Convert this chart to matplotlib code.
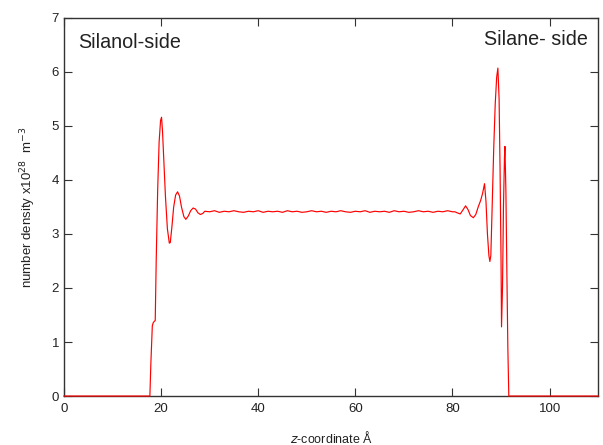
import matplotlib.pyplot as plt

plt.rcParams['font.family'] = ['Liberation Sans', 'DejaVu Sans']

# z-coordinate (Angstrom) and number density (x10^28 m^-3)
z = [0, 17.7, 17.9, 18.2, 18.4, 18.8, 19.0, 19.3, 19.6, 19.9, 20.1, 20.3, 20.6,
     20.9, 21.3, 21.7, 21.9, 22.2, 22.6, 23.0, 23.4, 23.8, 24.2, 24.7, 25.1,
     25.6, 26.1, 26.6, 27.1, 27.6, 28.1, 28.6, 29.0,
     30, 31, 32, 33, 34, 35, 36, 37, 38, 39, 40, 41, 42, 43, 44, 45, 46, 47,
     48, 49, 50, 51, 52, 53, 54, 55, 56, 57, 58, 59, 60, 61, 62, 63, 64, 65,
     66, 67, 68, 69, 70, 71, 72, 73, 74, 75, 76, 77, 78, 79, 80,
     80.5, 81.0, 81.6, 82.2, 82.7, 83.2, 83.7, 84.3, 84.8, 85.3, 85.8, 86.2,
     86.6, 86.9, 87.2, 87.5, 87.7, 87.9, 88.2, 88.5, 88.8, 89.1, 89.35, 89.6,
     89.8, 90.0, 90.1, 90.3, 90.5, 90.7, 90.8, 91.0, 91.2, 91.4, 91.6, 110]
rho = [0, 0, 0.6, 1.3, 1.36, 1.4, 2.5, 3.8, 4.7, 5.1, 5.16, 4.9, 4.3,
       3.7, 3.1, 2.83, 2.84, 3.1, 3.5, 3.72, 3.78, 3.7, 3.5, 3.32, 3.27,
       3.33, 3.43, 3.48, 3.46, 3.39, 3.36, 3.38, 3.42,
       3.41, 3.43, 3.40, 3.42, 3.41, 3.43, 3.41, 3.40, 3.42, 3.41, 3.43, 3.40,
       3.42, 3.41, 3.42, 3.40, 3.43, 3.41, 3.42, 3.40, 3.41, 3.43, 3.41, 3.42,
       3.40, 3.42, 3.41, 3.43, 3.41, 3.40, 3.42, 3.41, 3.43, 3.40, 3.42, 3.41,
       3.42, 3.40, 3.43, 3.41, 3.42, 3.40, 3.41, 3.43, 3.41, 3.42, 3.40, 3.42,
       3.41, 3.43, 3.41,
       3.41, 3.39, 3.37, 3.45, 3.52, 3.45, 3.34, 3.30, 3.36, 3.5, 3.62, 3.75,
       3.93, 3.6, 3.0, 2.6, 2.49, 2.6, 3.6, 4.6, 5.4, 5.9, 6.07, 5.5,
       4.2, 2.5, 1.28, 2.0, 3.5, 4.4, 4.62, 3.8, 2.3, 0.9, 0, 0]

fig = plt.figure(figsize=(6.03, 4.45), dpi=100)
ax = fig.add_axes([0.106, 0.110, 0.886, 0.850])

ax.plot(z, rho, color='red', lw=0.85, zorder=3, clip_on=False)

ax.set_xlim(0, 110)
ax.set_ylim(0, 7)
ax.set_xticks([0, 20, 40, 60, 80, 100])
ax.set_yticks(range(8))
ax.tick_params(direction='in', top=True, right=True, length=6,
               labelsize=9.5, colors='#333333', labelcolor='#222222')
ax.tick_params(axis='x', pad=5)
ax.tick_params(axis='y', pad=3.5)
for s in ax.spines.values():
    s.set_color('#333333')
    s.set_linewidth(1.0)

ax.set_xlabel('$z$-coordinate Å', fontsize=9, color='#222222')
ax.set_ylabel('number density x10$^{28}$  m$^{-3}$', fontsize=9.5,
              color='#222222')
ax.xaxis.set_label_coords(0.5, -0.111)
ax.xaxis.label.set_va('center')
ax.yaxis.set_label_coords(-0.067, 0.5)
ax.yaxis.label.set_va('center')

ax.text(3.0, 6.55, 'Silanol-side', fontsize=14.2, va='center', color='#222222')
ax.text(107.8, 6.6, 'Silane- side', fontsize=14.2, va='center', ha='right',
        color='#222222')

fig.savefig('out.png', dpi=100)
